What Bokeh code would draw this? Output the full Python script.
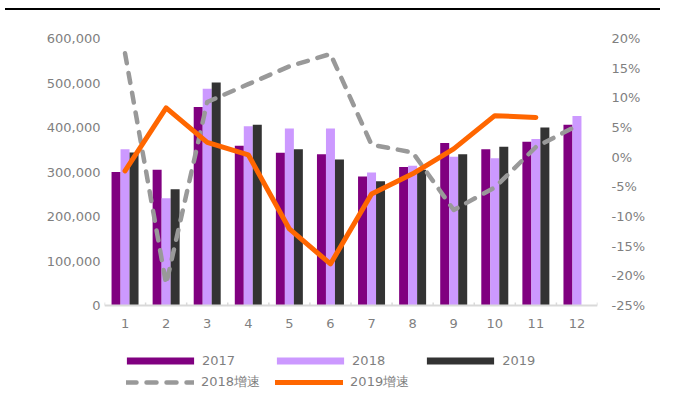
import numpy as np
from bokeh.plotting import figure
from bokeh.models import (ColumnDataSource, Range1d, LinearAxis, FixedTicker, NumeralTickFormatter,
                          PrintfTickFormatter, Legend, LegendItem, Span, InlineStyleSheet)
from bokeh.transform import dodge
from bokeh.embed import file_html
from bokeh.resources import INLINE

NaN = float("nan")

months = [1, 2, 3, 4, 5, 6, 7, 8, 9, 10, 11, 12]
month_labels = ["1", "2", "3", "4", "5", "6", "7", "8", "9", "10", "11", "12"]
sales_2017 = [300000, 305000, 446000, 359000, 343000, 340000, 290000, 311000, 365000, 351000, 368000, 406000]
sales_2018 = [351000, 241000, 487000, 403000, 398000, 398000, 299000, 314000, 334000, 331000, 374000, 426000]
sales_2019 = [344000, 261000, 501000, 406000, 351000, 328000, 279000, 305000, 340000, 357000, 400000, NaN]
growth_2018 = [17.5, -21.4, 9.3, 12.3, 15.3, 17.4, 2.1, 0.8, -8.9, -5.1, 1.7, 5.3]
growth_2019 = [-2.3, 8.3, 2.5, 0.4, -12.1, -18.0, -6.2, -2.8, 1.4, 7.0, 6.7, NaN]
left_ticks = [0, 100000, 200000, 300000, 400000, 500000, 600000]
right_ticks = [-25, -20, -15, -10, -5, 0, 5, 10, 15, 20]
series_labels = ["2017", "2018", "2019", "2018增速", "2019增速"]

FONT = "DejaVu Sans"
TXT = "#7f7f7f"
FS = "13px"

# layout geometry (pixels)
W, H = 660, 391
TOP, LEFT = 38, 104
FRAME_W = 493
RIGHT = W - LEFT - FRAME_W
AXIS_H = 267
BELOW = H - TOP - AXIS_H

y_max = 600000
y_min = -y_max * BELOW / AXIS_H
p_max, p_min_axis = 20, -25
p_min = p_min_axis - (p_max - p_min_axis) * BELOW / AXIS_H
tick_len = 3 * y_max / AXIS_H

src = ColumnDataSource(data=dict(
    month=np.array(months, dtype=float),
    label=month_labels,
    s17=np.array(sales_2017, dtype=float),
    s18=np.array(sales_2018, dtype=float),
    s19=np.array(sales_2019, dtype=float),
    g18=np.array(growth_2018, dtype=float),
    g19=np.array(growth_2019, dtype=float),
))
bounds = [m - 0.5 for m in months] + [months[-1] + 0.5]

p = figure(width=W, height=H, x_range=Range1d(0.5, 12.5), y_range=Range1d(y_min, y_max),
           output_backend="svg", toolbar_location=None, x_axis_location=None,
           min_border_left=LEFT, min_border_right=RIGHT, min_border_top=TOP, min_border_bottom=0)
p.outline_line_color = None
p.xgrid.visible = False
p.ygrid.visible = False
p.border_fill_alpha = 0
p.background_fill_alpha = 0
p.extra_y_ranges = {"pct": Range1d(p_min, p_max)}

# black rule across the top of the page (host background shows through the transparent canvas)
rule_css = "linear-gradient(#000000, #000000) 5px 8px / 655px 2px no-repeat, #ffffff"
p.styles = {"background": rule_css}
p.stylesheets = [InlineStyleSheet(css=":host { background: %s; }" % rule_css)]

bw = 0.219
r17 = p.vbar(x=dodge("month", -bw, range=p.x_range), top="s17", width=bw, source=src,
             fill_color="#800080", line_color=None)
r18 = p.vbar(x=dodge("month", 0, range=p.x_range), top="s18", width=bw, source=src,
             fill_color="#CC99FF", line_color=None)
r19 = p.vbar(x=dodge("month", bw, range=p.x_range), top="s19", width=bw, source=src,
             fill_color="#333333", line_color=None)

# category axis drawn at value 0
p.add_layout(Span(location=0, dimension="width", line_color="#d9d9d9", line_width=2))
p.segment(x0=bounds, y0=0, x1=bounds, y1=tick_len, line_color="#d9d9d9", line_width=1.5)
p.text(x="month", y=0, text="label", source=src, y_offset=18, text_align="center",
       text_baseline="middle", text_font_size=FS, text_color=TXT,
       text_font={"value": FONT})

rg18 = p.line(x="month", y="g18", source=src, y_range_name="pct", line_color="#999999",
              line_width=4.5, line_dash="10 10", line_cap="round", line_join="round")
rg19 = p.line(x="month", y="g19", source=src, y_range_name="pct", line_color="#FF6600",
              line_width=5, line_join="round", line_cap="round")

ya = p.yaxis[0]
ya.ticker = FixedTicker(ticks=left_ticks)
ya.formatter = NumeralTickFormatter(format="0,0")

ra = LinearAxis(y_range_name="pct", ticker=FixedTicker(ticks=right_ticks),
                formatter=PrintfTickFormatter(format="%d%%"))
p.add_layout(ra, "right")
ya.major_label_standoff = 4
ra.major_label_standoff = 14

for ax in (ya, ra):
    ax.axis_line_color = None
    ax.major_tick_line_color = None
    ax.minor_tick_line_color = None
    ax.major_tick_out = 0
    ax.major_tick_in = 0
    ax.major_label_text_font = FONT
    ax.major_label_text_font_size = FS
    ax.major_label_text_color = TXT

common = dict(orientation="horizontal", padding=0, margin=0, border_line_color=None,
              background_fill_alpha=0, label_text_font=FONT, label_text_font_size=FS,
              label_text_color=TXT)
leg1 = Legend(items=[LegendItem(label=series_labels[0], renderers=[r17]),
                     LegendItem(label=series_labels[1], renderers=[r18]),
                     LegendItem(label=series_labels[2], renderers=[r19])],
              location=(14, 23), glyph_width=84, glyph_height=9, label_standoff=0,
              spacing=33, **common)
leg2 = Legend(items=[LegendItem(label=series_labels[3], renderers=[rg18]),
                     LegendItem(label=series_labels[4], renderers=[rg19])],
              location=(22, 0), glyph_width=68, glyph_height=16, label_standoff=7,
              spacing=15, **common)
p.add_layout(leg1, "center")
p.add_layout(leg2, "center")

open("out.html", "w").write(file_html(p, INLINE))
